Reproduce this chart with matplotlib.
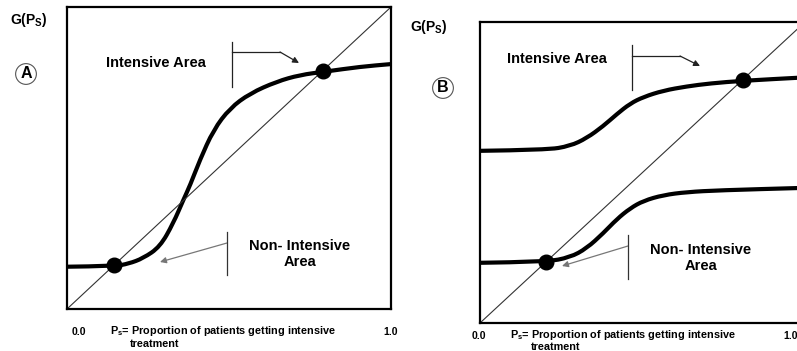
import matplotlib.pyplot as plt
from matplotlib.path import Path
from matplotlib.patches import PathPatch, FancyArrowPatch

plt.rcParams['font.family'] = ['Liberation Sans', 'DejaVu Sans']
plt.rcParams['font.weight'] = 'bold'
plt.rcParams['mathtext.fontset'] = 'custom'
plt.rcParams['mathtext.rm'] = 'Liberation Sans:bold'
plt.rcParams['mathtext.it'] = 'Liberation Sans:bold'
plt.rcParams['mathtext.bf'] = 'Liberation Sans:bold'

# identity line G(Ps) = Ps
diag = [0.0, 1.0]

# panel A: one S-shaped curve
a_x = [0.0, 0.148, 0.19, 0.235, 0.287, 0.328, 0.359, 0.38, 0.41, 0.452,
       0.503, 0.565, 0.647, 0.719, 0.796, 0.904, 1.0]
a_y = [0.140, 0.142, 0.150, 0.168, 0.206, 0.284, 0.361, 0.41, 0.493, 0.593,
       0.665, 0.714, 0.753, 0.775, 0.786, 0.802, 0.811]
a_dots_x = [0.145, 0.79]
a_dots_y = [0.145, 0.788]

# panel B: upper and lower curves
b_up_x = [0.0, 0.205, 0.277, 0.328, 0.379, 0.421, 0.462, 0.503, 0.564,
          0.636, 0.708, 0.810, 1.0]
b_up_y = [0.572, 0.575, 0.588, 0.614, 0.654, 0.694, 0.729, 0.751, 0.772,
          0.786, 0.796, 0.805, 0.816]
b_lo_x = [0.0, 0.203, 0.277, 0.328, 0.379, 0.421, 0.462, 0.503, 0.564,
          0.636, 0.738, 1.0]
b_lo_y = [0.200, 0.203, 0.218, 0.248, 0.298, 0.345, 0.381, 0.406, 0.425,
          0.435, 0.441, 0.449]
b_dots_x = [0.203, 0.81]
b_dots_y = [0.203, 0.806]

W, H = 797, 351
fig = plt.figure(figsize=(W / 100, H / 100), dpi=100)


def fp(x, y):
    # pixel position -> figure fraction
    return (x / W, 1 - y / H)


def make_axes(left, top, right, bottom):
    ax = fig.add_axes([left / W, 1 - bottom / H, (right - left) / W, (bottom - top) / H])
    ax.set_xlim(0, 1)
    ax.set_ylim(0, 1)
    ax.set_xticks([])
    ax.set_yticks([])
    for s in ax.spines.values():
        s.set_linewidth(1.6)
    ax.plot(diag, diag, color='#333333', lw=0.8)
    return ax


def smooth_curve(ax, xs, ys):
    # quadratic bezier through midpoints, points act as control points
    pts = list(zip(xs, ys))
    verts = [pts[0]]
    codes = [Path.MOVETO]
    for i in range(1, len(pts) - 1):
        mid = ((pts[i][0] + pts[i + 1][0]) / 2, (pts[i][1] + pts[i + 1][1]) / 2)
        verts += [pts[i], mid]
        codes += [Path.CURVE3, Path.CURVE3]
    verts.append(pts[-1])
    codes.append(Path.LINETO)
    ax.add_patch(PathPatch(Path(verts, codes), fill=False, lw=3.0,
                           ec='black', capstyle='butt'))


def line(p0, p1, color):
    fig.add_artist(plt.Line2D([p0[0] / W, p1[0] / W], [1 - p0[1] / H, 1 - p1[1] / H],
                              color=color, lw=0.9, transform=fig.transFigure))


def arrow_head(p0, p1, color):
    fig.patches.append(FancyArrowPatch(
        fp(*p0), fp(*p1), transform=fig.transFigure, arrowstyle='-|>',
        mutation_scale=9, color=color, lw=0.9, shrinkA=0, shrinkB=0))


def txt(x, y, s, size, ha='left', va='center', **kw):
    fig.text(x / W, 1 - y / H, s, fontsize=size, ha=ha, va=va,
             fontweight='bold', **kw)


# ---- panel A ----
axA = make_axes(67, 7, 391, 309)
smooth_curve(axA, a_x, a_y)
axA.plot(a_dots_x, a_dots_y, 'o', color='black', ms=10.5, clip_on=False)

txt(156, 63, 'Intensive Area', 10.5, ha='center')
line((232, 42), (232, 87), '#222222')
line((232, 52), (280, 52), '#222222')
arrow_head((280, 52), (299, 63), '#222222')

txt(300, 254, 'Non- Intensive\nArea', 10.5, ha='center', linespacing=1.15,
    multialignment='center')
line((227, 232), (227, 275), '#333333')
arrow_head((227, 243), (160, 262), '#777777')

txt(10, 20, 'G(P$_\\mathrm{S}$)', 10)
txt(26, 74, 'A', 11.5, ha='center',
    bbox=dict(boxstyle='circle,pad=0.18', fc='white', ec='#555555', lw=0.8))
txt(72, 332, '0.0', 7.5)
txt(383, 332, '1.0', 7.5)
txt(110, 331, 'P$_s$= Proportion of patients getting intensive', 7.8)
txt(130, 344, 'treatment', 7.8)

# ---- panel B ----
axB = make_axes(480, 22, 805, 323)
smooth_curve(axB, b_up_x, b_up_y)
smooth_curve(axB, b_lo_x, b_lo_y)
axB.plot(b_dots_x, b_dots_y, 'o', color='black', ms=10.5, clip_on=False)

txt(557, 59, 'Intensive Area', 10.5, ha='center')
line((632, 45), (632, 90), '#222222')
line((632, 56), (680, 56), '#222222')
arrow_head((680, 56), (700, 66), '#222222')

txt(701, 258, 'Non- Intensive\nArea', 10.5, ha='center', linespacing=1.15,
    multialignment='center')
line((628, 235), (628, 279), '#333333')
arrow_head((628, 246), (562, 266), '#777777')

txt(410, 27, 'G(P$_\\mathrm{S}$)', 10)
txt(443, 88, 'B', 11.5, ha='center',
    bbox=dict(boxstyle='circle,pad=0.18', fc='white', ec='#555555', lw=0.8))
txt(472, 336, '0.0', 7.5)
txt(783, 336, '1.0', 7.5)
txt(510, 335, 'P$_s$= Proportion of patients getting intensive', 7.8)
txt(531, 347, 'treatment', 7.8)

fig.savefig('out.png', dpi=100)
